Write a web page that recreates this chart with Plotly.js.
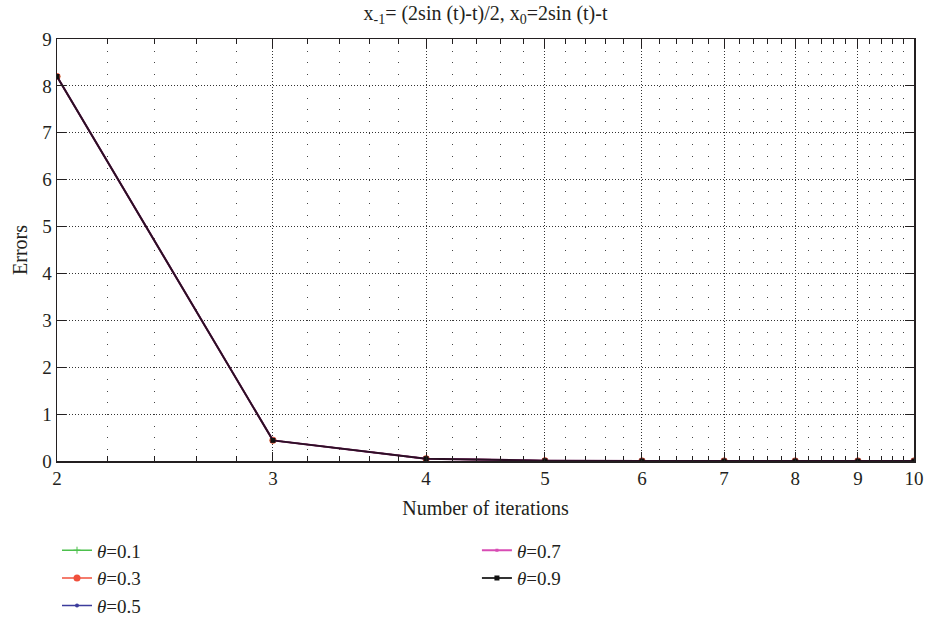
<!DOCTYPE html>
<html>
<head>
<meta charset="utf-8">
<script src="https://cdn.plot.ly/plotly-3.0.1.min.js"></script>
<style>html,body{margin:0;padding:0;background:#fff;}#chart{width:926px;height:620px;}</style>
</head>
<body>
<div id="chart"></div>
<script>
// ---- data ----
const iterations = [2, 3, 4, 5, 6, 7, 8, 9, 10];
const errTheta01 = [8.2, 0.44, 0.05, 0.006, 0.001, 0.0002, 0, 0, 0];
const errTheta03 = [8.2, 0.44, 0.05, 0.006, 0.001, 0.0002, 0, 0, 0];
const errTheta05 = [8.2, 0.44, 0.05, 0.006, 0.001, 0.0002, 0, 0, 0];
const errTheta07 = [8.2, 0.44, 0.05, 0.006, 0.001, 0.0002, 0, 0, 0];
const errTheta09 = [8.2, 0.44, 0.05, 0.006, 0.001, 0.0002, 0, 0, 0];
const seriesNames = ["θ=0.1", "θ=0.3", "θ=0.5", "θ=0.7", "θ=0.9"];
const xTickVals = [2, 3, 4, 5, 6, 7, 8, 9, 10];
const xTickText = ["2", "3", "4", "5", "6", "7", "8", "9", "10"];
const yTickVals = [0, 1, 2, 3, 4, 5, 6, 7, 8, 9];

// minor tick positions on the log x axis (every 0.2)
const xMinor = [];
for (let i = 0; i < xTickVals.length - 1; i++) {
  for (let k = 1; k < 5; k++) xMinor.push(+(xTickVals[i] + k * 0.2).toFixed(2));
}

const FONT = "Liberation Serif, Times New Roman, serif";
const TXT = "#231f20";
function nm(s) { return s.replace("θ", "<i>θ</i>"); }

const traces = [
  {x: iterations, y: errTheta01, name: nm(seriesNames[0]), mode: "lines+markers",
   line: {color: "#4cc04c", width: 1.5}, marker: {symbol: "cross-thin", size: 5, color: "#4cc04c", line: {color: "#4cc04c", width: 1}}, legend: "legend"},
  {x: iterations, y: errTheta03, name: nm(seriesNames[1]), mode: "lines+markers",
   line: {color: "#f0503c", width: 1.5}, marker: {symbol: "circle", size: 7, color: "#f0503c"}, legend: "legend"},
  {x: iterations, y: errTheta05, name: nm(seriesNames[2]), mode: "lines+markers",
   line: {color: "#3c3c9c", width: 1.5}, marker: {symbol: "circle", size: 4, color: "#3c3c9c"}, legend: "legend"},
  {x: iterations, y: errTheta07, name: nm(seriesNames[3]), mode: "lines+markers",
   line: {color: "#d84cb4", width: 2}, marker: {symbol: "square", size: 3, color: "#d84cb4"}, legend: "legend2"},
  {x: iterations, y: errTheta09, name: nm(seriesNames[4]), mode: "lines+markers",
   line: {color: "rgba(0,0,0,0.8)", width: 2}, marker: {symbol: "square", size: 5, color: "#111"}, legend: "legend2"}
];

const layout = {
  width: 926, height: 620,
  margin: {l: 57, r: 12, t: 39, b: 159, autoexpand: false},
  paper_bgcolor: "#fff", plot_bgcolor: "#fff",
  font: {family: FONT, size: 19, color: TXT},
  showlegend: true,
  title: {text: "x<sub>-1</sub>= (2sin (t)-t)/2, x<sub>0</sub>=2sin (t)-t",
          font: {family: FONT, size: 20, color: TXT}, xref: "paper", x: 0.5, xanchor: "center",
          yref: "container", y: 0.979, yanchor: "middle"},
  xaxis: {
    type: "log", range: [Math.log10(2), 1],
    tickmode: "array", tickvals: xTickVals, ticktext: xTickText,
    ticks: "inside", ticklen: 9, tickwidth: 1, tickcolor: TXT,
    showline: true, linecolor: TXT, linewidth: 1.5, mirror: "allticks",
    showgrid: true, gridcolor: "#333", griddash: "1px,2px", gridwidth: 1,
    zeroline: false,
    minor: {tickmode: "array", tickvals: xMinor, ticks: "inside", ticklen: 5, tickcolor: TXT,
            showgrid: true, gridcolor: "#444", griddash: "1px,10.72px", gridwidth: 1},
    tickfont: {family: FONT, size: 19, color: TXT},
    title: {text: "Number of iterations", font: {family: FONT, size: 20, color: TXT}, standoff: 12}
  },
  yaxis: {
    range: [0, 9], tickmode: "array", tickvals: yTickVals,
    ticks: "inside", ticklen: 9, tickwidth: 1, tickcolor: TXT,
    showline: true, linecolor: TXT, linewidth: 1.5, mirror: "allticks",
    showgrid: true, gridcolor: "#333", griddash: "1px,2px", gridwidth: 1,
    zeroline: false,
    tickfont: {family: FONT, size: 19, color: TXT},
    title: {text: "Errors", font: {family: FONT, size: 20, color: TXT}, standoff: 9}
  },
  legend: {x: 0.0, xanchor: "left", yref: "container", y: 0.143, yanchor: "top", orientation: "v",
           font: {family: FONT, size: 19, color: TXT}, bgcolor: "rgba(0,0,0,0)", tracegroupgap: 0},
  legend2: {x: 0.49, xanchor: "left", yref: "container", y: 0.143, yanchor: "top", orientation: "v",
           font: {family: FONT, size: 19, color: TXT}, bgcolor: "rgba(0,0,0,0)", tracegroupgap: 0}
};

Plotly.newPlot("chart", traces, layout, {displayModeBar: false, staticPlot: true});
</script>
</body>
</html>
